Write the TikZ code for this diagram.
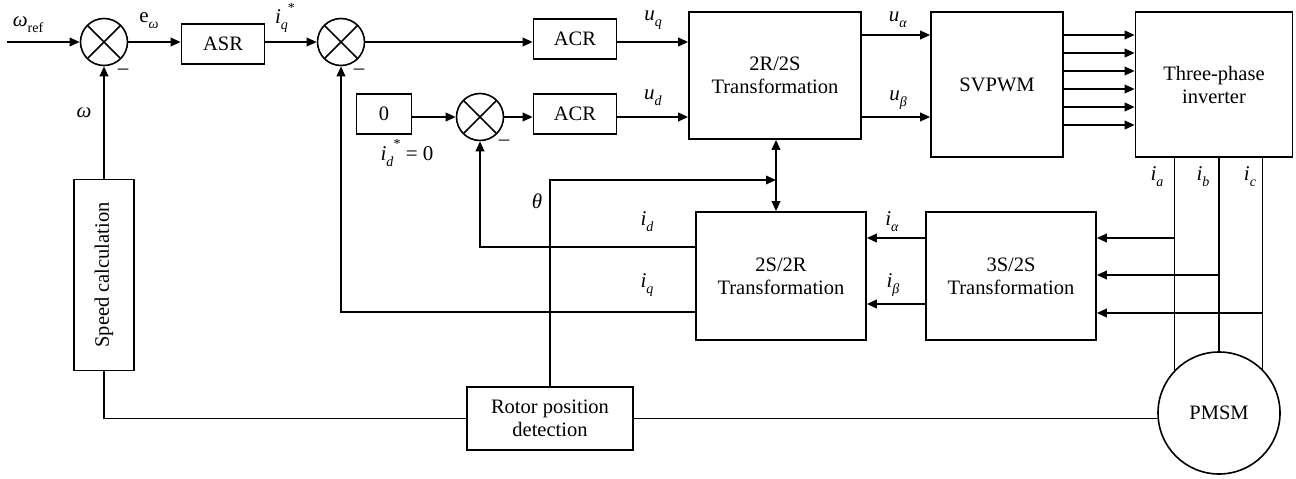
\documentclass[tikz,border=0pt]{standalone}
\usepackage{fontspec}
\setmainfont{Liberation Serif}
\usetikzlibrary{arrows.meta}
\newcommand\sbs[1]{\raisebox{-0.28em}{\fontsize{14}{14}\selectfont #1}}
\newcommand\sps[1]{\raisebox{0.55em}{\fontsize{14}{14}\selectfont #1}}
\begin{document}
\begin{tikzpicture}[x=1pt,y=-1pt,font=\fontsize{20.5}{23}\selectfont,
  blk/.style={draw,line width=1.6pt,inner sep=0pt,align=center},
  sumc/.style={circle,draw,line width=1.6pt,minimum size=47pt,inner sep=0pt,
    path picture={\draw[line width=1.6pt] (path picture bounding box.north west)--(path picture bounding box.south east)
      (path picture bounding box.south west)--(path picture bounding box.north east);}},
  sig/.style={line width=2pt,-{Triangle[length=10pt,width=8.5pt]}},
  dsig/.style={line width=2pt,{Triangle[length=10pt,width=8.5pt]}-{Triangle[length=10pt,width=8.5pt]}},
  thinw/.style={line width=1.5pt},
  lbl/.style={inner sep=0pt,font=\fontsize{21}{23}\selectfont}]
\useasboundingbox (0,0) rectangle (1296,479);
% blocks
\node[sumc] (sum1) at (104,42) {};
\node[sumc] (sum2) at (341,42) {};
\node[sumc] (sum3) at (480,117) {};
\node[blk,minimum width=83pt,minimum height=40pt] (asr) at (223,44) {ASR};
\node[blk,minimum width=83pt,minimum height=40pt] (acr1) at (575,39) {ACR};
\node[blk,minimum width=83pt,minimum height=40pt] (acr2) at (575,114) {ACR};
\node[blk,minimum width=55pt,minimum height=40pt] (zero) at (384,114) {0};
\node[blk,minimum width=172pt,minimum height=127pt] (t2r) at (775,75.5) {2R/2S\\Transformation};
\node[blk,minimum width=132pt,minimum height=145pt] (svpwm) at (997,84.5) {SVPWM};
\node[blk,minimum width=157pt,minimum height=145pt] (inv) at (1214,84.5) {Three-phase\\inverter};
\node[blk,minimum width=170pt,minimum height=128pt] (s2r) at (781,276) {2S/2R\\Transformation};
\node[blk,minimum width=170pt,minimum height=128pt] (s3s) at (1011,276) {3S/2S\\Transformation};
\node[blk,minimum width=60pt,minimum height=191pt] (speed) at (104,275) {};
\node[rotate=90,inner sep=0pt] (speedtxt) at (speed.center) {Speed calculation};
\node[blk,minimum width=166pt,minimum height=63pt] (rotor) at (550,418.5) {Rotor position\\detection};
\node[circle,draw,line width=1.6pt,minimum size=122pt,inner sep=0pt] (pmsm) at (1219,413) {PMSM};
% helper coordinates
\coordinate (win) at (7,42);
\coordinate (vj) at (776,180);
\coordinate (vt) at (776,0);
\coordinate (idy) at (0,247);
\coordinate (iqy) at (0,312);
\coordinate (ya) at (0,238);
\coordinate (yb) at (0,275);
\coordinate (yc) at (0,313);
\coordinate (yal) at (0,238);
\coordinate (ybe) at (0,304);
\coordinate (ua) at (0,35);
\coordinate (ub) at (0,117);
% forward path
\draw[sig] (win) -- (sum1.west);
\draw[sig] (sum1.east) -- (asr.west |- sum1.east);
\draw[sig] (asr.east |- sum2.west) -- (sum2.west);
\draw[sig] (sum2.east) -- (acr1.west |- sum2.east);
\draw[sig] (acr1.east |- sum2.east) -- (t2r.west |- sum2.east);
\draw[sig] (zero.east |- sum3.west) -- (sum3.west);
\draw[sig] (sum3.east) -- (acr2.west |- sum3.east);
\draw[sig] (acr2.east |- sum3.east) -- (t2r.west |- sum3.east);
\draw[sig] (t2r.east |- ua) -- (svpwm.west |- ua);
\draw[sig] (t2r.east |- ub) -- (svpwm.west |- ub);
\foreach \yy in {35,53,71,89,107,125}{
  \coordinate (pw) at (0,\yy);
  \draw[sig] (svpwm.east |- pw) -- (inv.west |- pw);
}
% inverter to motor
\draw[thinw] (pmsm.136 |- inv.south) -- (pmsm.136);
\draw[thinw] (pmsm.north |- inv.south) -- (pmsm.north);
\draw[thinw] (pmsm.45 |- inv.south) -- (pmsm.45);
\draw[sig] (pmsm.136 |- ya) -- (s3s.east |- ya);
\draw[sig] (pmsm.north |- yb) -- (s3s.east |- yb);
\draw[sig] (pmsm.45 |- yc) -- (s3s.east |- yc);
\draw[sig] (s3s.west |- yal) -- (s2r.east |- yal);
\draw[sig] (s3s.west |- ybe) -- (s2r.east |- ybe);
% theta
\draw[dsig] (vt |- t2r.south) -- (vt |- s2r.north);
\draw[sig] (rotor.north) |- (vj);
% feedback
\draw[sig] (s2r.west |- idy) -| (sum3.south);
\draw[sig] (s2r.west |- iqy) -| (sum2.south);
\draw[sig] (speed.north) -- (sum1.south);
\draw[thinw] (speed.south) |- (rotor.west);
\draw[thinw] (rotor.east) -- (pmsm.west |- rotor.east);
% labels
\node[lbl] (lwref) at (28,25) {\textit{ω}\sbs{ref}};
\node[lbl] (lew) at (149,21) {e\sbs{\textit{ω}}};
\node[lbl] (lw) at (84,113) {\textit{ω}};
\node[lbl] (liqs) at (285,18) {\textit{i}\sbs{\textit{q}}\sps{*}};
\node[lbl] (m1) at (123,72) {–};
\node[lbl] (m2) at (359,72) {–};
\node[lbl] (m3) at (504,143) {–};
\node[lbl] (luq) at (653,20) {\textit{u}\sbs{\textit{q}}};
\node[lbl] (lud) at (653,98) {\textit{u}\sbs{\textit{d}}};
\node[lbl] (lids) at (407,153) {\textit{i}\sbs{\textit{d}}\sps{*} = 0};
\node[lbl] (lua) at (898,20) {\textit{u}\sbs{\textit{α}}};
\node[lbl] (lub) at (898,100) {\textit{u}\sbs{\textit{β}}};
\node[lbl] (lth) at (537,201) {\textit{θ}};
\node[lbl] (lid) at (647,222) {\textit{i}\sbs{\textit{d}}};
\node[lbl] (liq) at (647,285) {\textit{i}\sbs{\textit{q}}};
\node[lbl] (lial) at (892,222) {\textit{i}\sbs{\textit{α}}};
\node[lbl] (libe) at (893,285) {\textit{i}\sbs{\textit{β}}};
\node[lbl] (lia) at (1157,177) {\textit{i}\sbs{\textit{a}}};
\node[lbl] (lib) at (1203,177) {\textit{i}\sbs{\textit{b}}};
\node[lbl] (lic) at (1250,177) {\textit{i}\sbs{\textit{c}}};
\end{tikzpicture}
\end{document}
